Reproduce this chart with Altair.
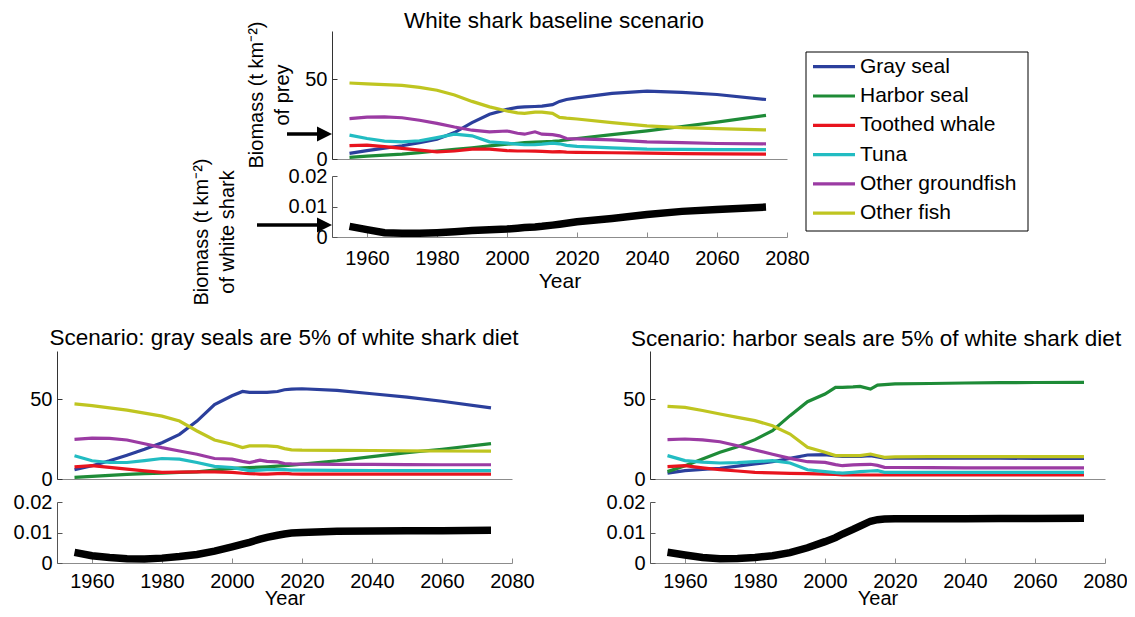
import altair as alt
import pandas as pd

# ---------------- data ----------------
YEARS = [1955, 1960, 1965, 1970, 1975, 1980, 1985, 1990, 1995, 2000, 2003, 2005,
         2008, 2010, 2013, 2015, 2017, 2020, 2030, 2040, 2050, 2060, 2074]
SPECIES = ["Gray seal", "Harbor seal", "Toothed whale", "Tuna", "Other groundfish", "Other fish"]
COLORS = ["#2b3f9c", "#1e8b37", "#e8141e", "#22bcc2", "#9b3ba3", "#bfc520"]
X_TICKS = [1960, 1980, 2000, 2020, 2040, 2060, 2080]

# baseline scenario
BASE_GRAY_SEAL = [3.5, 5.2, 6.8, 8.3, 10.2, 12.4, 16.5, 22.7, 28, 31, 32.3, 32.6, 32.8, 33, 34, 36, 37.2, 38.2, 41, 42.4, 41.7, 40.3, 37.2]
BASE_HARBOR_SEAL = [1, 1.8, 2.4, 3, 4, 5, 6, 7, 8.2, 9.3, 9.8, 10.2, 10.5, 10.7, 11, 11.4, 12, 12.8, 15.2, 17.6, 20.3, 23, 27.3]
BASE_TOOTHED = [8.3, 8.7, 7.7, 6.6, 5.5, 4.5, 5.0, 6.2, 6.2, 5.2, 5.0, 5.0, 4.9, 4.8, 4.5, 4.6, 4.3, 4.1, 3.9, 3.7, 3.4, 3.2, 3.1]
BASE_TUNA = [14.9, 12.8, 11.2, 10.7, 11.4, 13.4, 15.5, 14.5, 10.7, 9.9, 9.3, 8.9, 9.0, 9.3, 9.9, 9.5, 8.5, 7.9, 7.0, 6.2, 6.0, 5.9, 5.8]
BASE_GROUNDFISH = [25.2, 26.2, 26.3, 25.8, 24.2, 22.3, 20, 18, 17, 17.5, 16.1, 15.5, 17, 15.5, 15.2, 14.5, 12.8, 12.6, 12, 10.7, 10.2, 9.7, 9.5]
BASE_OTHER_FISH = [47.5, 47, 46.5, 46, 44.8, 43, 40, 36, 32.6, 30, 28.8, 28.5, 29.3, 29.3, 28.5, 26, 25.5, 25, 22.7, 20.7, 19.6, 19, 18.2]
BASE_SHARK = [0.0035, 0.0024, 0.0014, 0.0012, 0.0012, 0.0014, 0.0017, 0.0021, 0.0024, 0.0026, 0.0029, 0.0031,
              0.0033, 0.0035, 0.0039, 0.0042, 0.0045, 0.005, 0.0061, 0.0074, 0.0084, 0.009, 0.0098]

# gray seals are 5% of white shark diet
GRAY_GRAY_SEAL = [5.8, 8.3, 11.4, 14.9, 18.6, 22.7, 27.9, 36.2, 46.5, 52, 54.7, 54.1, 54.1, 54.1, 54.7, 55.8, 56.2, 56.4, 55.4, 53.3, 51.2, 48.6, 44.4]
GRAY_HARBOR_SEAL = [1, 1.6, 2.3, 2.9, 3.3, 3.7, 4.1, 4.5, 5.5, 6.6, 7.0, 7.2, 7.4, 7.6, 8.0, 8.3, 8.7, 9.3, 11.4, 14, 16.5, 18.6, 22.1]
GRAY_TOOTHED = [7.6, 8.3, 7.3, 6.2, 5.1, 4.1, 4.3, 4.5, 4.4, 4.1, 3.6, 3.4, 3.1, 3.1, 3.4, 3.5, 3.2, 3.1, 3.1, 3.1, 3.1, 3.1, 3.1]
GRAY_TUNA = [14.5, 11.4, 10.3, 10.3, 11.5, 12.8, 12.4, 10.3, 7.9, 7.2, 6.0, 5.2, 5.6, 5.8, 5.9, 5.8, 5.6, 5.6, 5.4, 5.3, 5.2, 5.2, 5.2]
GRAY_GROUNDFISH = [24.8, 25.6, 25.4, 24.4, 22, 19.6, 17.5, 15.5, 12.8, 12.4, 11, 10.3, 11.8, 11, 10.7, 9.7, 9.4, 9.3, 9.2, 9.1, 9, 8.9, 8.9]
GRAY_OTHER_FISH = [46.9, 45.9, 44.5, 43, 41.2, 39.3, 36.2, 30, 24.4, 21.7, 19.6, 20.7, 20.7, 20.7, 20.2, 19, 18.2, 18, 17.9, 17.8, 17.6, 17.5, 17.4]
GRAY_SHARK = [0.0035, 0.0024, 0.0018, 0.0014, 0.0013, 0.0016, 0.0021, 0.0028, 0.0039, 0.0053, 0.0062, 0.0068,
              0.0078, 0.0084, 0.0091, 0.0095, 0.0098, 0.01, 0.0104, 0.0105, 0.0106, 0.0106, 0.0107]

# harbor seals are 5% of white shark diet
HARB_GRAY_SEAL = [3.7, 5.2, 6, 6.7, 8, 9.4, 10.8, 12.9, 15, 15.2, 14.5, 14.2, 14.2, 14.2, 14.6, 13.8, 13.1, 13.1, 13.1, 13, 13, 12.9, 12.9]
HARB_HARBOR_SEAL = [4.6, 8.3, 12.5, 16.7, 20.2, 24.6, 30.2, 39.6, 48.3, 53.1, 57.3, 57.3, 57.6, 57.9, 56.2, 58.7, 59, 59.4, 59.7, 60, 60.2, 60.3, 60.4]
HARB_TOOTHED = [7.7, 8.3, 7, 5.8, 5, 4.2, 3.8, 3.5, 3.3, 3.1, 2.8, 2.5, 2.5, 2.5, 2.5, 2.5, 2.5, 2.5, 2.5, 2.5, 2.5, 2.5, 2.5]
HARB_TUNA = [14.6, 11.5, 10.5, 10, 10.2, 10.8, 11.5, 10, 5.8, 4.6, 4.0, 3.7, 4.2, 4.6, 5.0, 5.2, 4.2, 4.2, 4.2, 4.2, 4.2, 4.2, 4.2]
HARB_GROUNDFISH = [24.6, 25, 24.4, 23.3, 20.8, 18.1, 15.5, 12.9, 10.8, 10.4, 9.0, 8.3, 8.8, 9.0, 9.2, 8.5, 7.3, 7.2, 7.1, 7.0, 7.0, 6.9, 6.9]
HARB_OTHER_FISH = [45.4, 44.8, 42.8, 40.6, 38.5, 36.5, 33.3, 28.1, 19.8, 16.7, 14.6, 14.6, 14.6, 14.6, 15.6, 14.5, 13.5, 13.8, 14, 14, 14, 14, 14]
HARB_SHARK = [0.0035, 0.0026, 0.0018, 0.0014, 0.0015, 0.0018, 0.0024, 0.0034, 0.005, 0.007, 0.0083, 0.0095,
              0.011, 0.0121, 0.0137, 0.0142, 0.0144, 0.0145, 0.0145, 0.0145, 0.0146, 0.0146, 0.0147]

TITLES = ["White shark baseline scenario",
          "Scenario: gray seals are 5% of white shark diet",
          "Scenario: harbor seals are 5% of white shark diet"]

# ---------------- layout ----------------
W, H = 1119, 601
FONT = "Liberation Sans"
X_DOMAIN = [1950, 2080]
PREY_DOMAIN = [0, 80]
SHARK_DOMAIN = [0, 0.02]

panels = [
    dict(title=TITLES[0], tx=546, ty=13, x0=324, x1=779, pyb=151, pyt=23, syb=229, syt=168,
         lpad=16, tpad=2, tfs=21,
         prey=[BASE_GRAY_SEAL, BASE_HARBOR_SEAL, BASE_TOOTHED, BASE_TUNA, BASE_GROUNDFISH, BASE_OTHER_FISH],
         shark=BASE_SHARK),
    dict(title=TITLES[1], tx=276, ty=330, x0=49, x1=504, pyb=471, pyt=343, syb=555, syt=494,
         lpad=13, tpad=-2.5, tfs=20,
         prey=[GRAY_GRAY_SEAL, GRAY_HARBOR_SEAL, GRAY_TOOTHED, GRAY_TUNA, GRAY_GROUNDFISH, GRAY_OTHER_FISH],
         shark=GRAY_SHARK),
    dict(title=TITLES[2], tx=868, ty=331, x0=642, x1=1097, pyb=471, pyt=343, syb=555, syt=494,
         lpad=13, tpad=-2.5, tfs=20,
         prey=[HARB_GRAY_SEAL, HARB_HARBOR_SEAL, HARB_TOOTHED, HARB_TUNA, HARB_GROUNDFISH, HARB_OTHER_FISH],
         shark=HARB_SHARK),
]

COLOR_SCALE = alt.Scale(domain=SPECIES, range=COLORS)
one = pd.DataFrame({"k": [0]})
layers = []

for p in panels:
    rows = []
    for sp, vals in zip(SPECIES, p["prey"]):
        for yr, v in zip(YEARS, vals):
            rows.append({"year": yr, "value": v, "species": sp})
    prey_df = pd.DataFrame(rows)
    shark_df = pd.DataFrame({"year": YEARS, "value": p["shark"]})

    xs = alt.Scale(domain=X_DOMAIN, range=[p["x0"], p["x1"]], nice=False, zero=False)

    prey = alt.Chart(prey_df).mark_line(strokeWidth=3.2).encode(
        x=alt.X("year:Q", scale=xs,
                axis=alt.Axis(orient="bottom", offset=p["pyb"] - H, labels=False, ticks=False,
                              domainColor="#8c8c8c", title=None, grid=False)),
        y=alt.Y("value:Q",
                scale=alt.Scale(domain=PREY_DOMAIN, range=[p["pyb"], p["pyt"]], nice=False, zero=False),
                axis=alt.Axis(orient="left", offset=-p["x0"], values=[0, 50], format="d",
                              tickSize={"expr": "-5"}, labelPadding=10, domainColor="#333333",
                              tickColor="#333333", labelFont=FONT, labelFontSize=20, labelColor="black",
                              title=None, grid=False)),
        color=alt.Color("species:N", scale=COLOR_SCALE, legend=None),
    )
    shark = alt.Chart(shark_df).mark_line(strokeWidth=7.5, color="black").encode(
        x=alt.X("year:Q", scale=xs,
                axis=alt.Axis(orient="bottom", offset=p["syb"] - H, values=X_TICKS, format="d",
                              tickSize={"expr": "-5"}, labelPadding=p["lpad"], labelFlush=False,
                              domainColor="#8c8c8c", tickColor="#8c8c8c", labelFont=FONT,
                              labelFontSize=20, labelColor="black", title="Year", titleFont=FONT,
                              titleFontSize=p["tfs"], titleFontWeight="normal", titleColor="black",
                              titlePadding={"expr": str(p["tpad"])}, grid=False)),
        y=alt.Y("value:Q",
                scale=alt.Scale(domain=SHARK_DOMAIN, range=[p["syb"], p["syt"]], nice=False, zero=False),
                axis=alt.Axis(orient="left", offset=-p["x0"], values=[0, 0.01, 0.02], format=".2~f",
                              tickSize={"expr": "-5"}, labelPadding=10, domainColor="#555555",
                              tickColor="#555555", labelFont=FONT, labelFontSize=20, labelColor="black",
                              title=None, grid=False)),
    )
    title = alt.Chart(one).mark_text(text=p["title"], font=FONT, fontSize=22.5, align="center",
                                     baseline="middle", color="black").encode(
        x=alt.value(p["tx"]), y=alt.value(p["ty"]))
    layers += [prey, shark, title]

# y-axis titles for the baseline panel
prey_ytitle = alt.Chart(one).mark_text(text=["Biomass (t km\u207b\u00b2)", "of prey"], angle=270,
                                       align="center", baseline="alphabetic", lineHeight=26,
                                       font=FONT, fontSize=20, color="black").encode(
    x=alt.value(255), y=alt.value(87))
shark_ytitle = alt.Chart(one).mark_text(text=["Biomass (t km\u207b\u00b2)", "of white shark"], angle=270,
                                        align="center", baseline="alphabetic", lineHeight=26,
                                        font=FONT, fontSize=20, color="black").encode(
    x=alt.value(200), y=alt.value(224))

# arrows pointing at the initial biomass
ARROW_Y = [126, 217]
ARROW_X0 = [279, 249]
arrow_layers = []
for ay, ax0 in zip(ARROW_Y, ARROW_X0):
    arrow_layers.append(alt.Chart(one).mark_rule(color="black", strokeWidth=3.5).encode(
        x=alt.value(ax0), x2=alt.value(312), y=alt.value(ay)))
    arrow_layers.append(alt.Chart(one).mark_point(shape="M-1,-1L1,0L-1,1Z", filled=True, color="black",
                                                  opacity=1, size=225).encode(
        x=alt.value(316.5), y=alt.value(ay)))

# legend
legend_box = alt.Chart(one).mark_rect(fill="white", stroke="black", strokeWidth=1).encode(
    x=alt.value(798), x2=alt.value(1020), y=alt.value(44), y2=alt.value(223))
leg_df = pd.DataFrame({"species": SPECIES})
leg_y = alt.Y("species:N", scale=alt.Scale(type="point", domain=SPECIES, range=[58.7, 205.2], padding=0),
              axis=None)
legend_lines = alt.Chart(leg_df).mark_rule(strokeWidth=3.2).encode(
    x=alt.value(805), x2=alt.value(847), y=leg_y,
    color=alt.Color("species:N", scale=COLOR_SCALE, legend=None))
legend_text = alt.Chart(leg_df).mark_text(align="left", baseline="middle", font=FONT, fontSize=21,
                                          color="black").encode(
    x=alt.value(852), y=leg_y, text="species:N")

chart = alt.layer(*layers, prey_ytitle, shark_ytitle, *arrow_layers, legend_box, legend_lines, legend_text
                  ).resolve_scale(x="independent", y="independent").properties(
    width=W, height=H, autosize=alt.AutoSizeParams(type="none"), padding=0
).configure_view(strokeWidth=0).configure_axis(grid=False)

chart.save("out.html", embed_options={"renderer": "svg", "actions": False})
